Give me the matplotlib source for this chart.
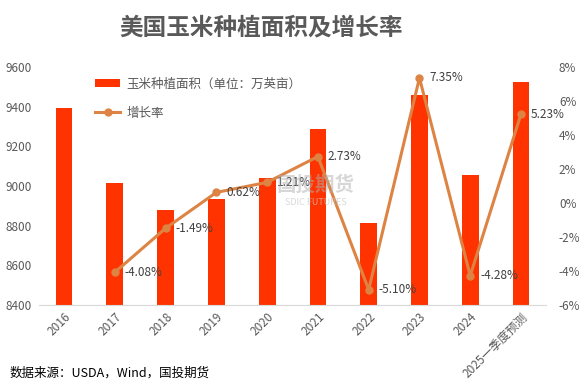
import matplotlib.pyplot as plt
import numpy as np

plt.rcParams['font.family'] = ['Noto Sans CJK SC', 'DejaVu Sans']

years = ['2016', '2017', '2018', '2019', '2020', '2021', '2022', '2023', '2024', '2025一季度预测']
area = [9395, 9017, 8879, 8934, 9042, 9287, 8815, 9459, 9055, 9524]
growth = [None, -4.08, -1.49, 0.62, 1.21, 2.73, -5.10, 7.35, -4.28, 5.23]
growth_labels = ['', '-4.08%', '-1.49%', '0.62%', '1.21%', '2.73%', '-5.10%', '7.35%', '-4.28%', '5.23%']

bar_color = '#FF3300'
line_color = '#DD8445'
text_color = '#595959'

fig = plt.figure(figsize=(5.79, 3.89), dpi=100)
ax = fig.add_axes([0.0667, 0.216, 0.877, 0.612])
x = np.arange(len(years))

bars = ax.bar(x, area, width=0.33, color=bar_color, zorder=2)
ax.set_ylim(8400, 9600)
ax.set_xlim(-0.5, len(years) - 0.5)
ax.set_yticks(np.arange(8400, 9601, 200))
ax.set_xticks(x)
ax.set_xticklabels(years, rotation=45, ha='right', rotation_mode='anchor')
for s in ['top', 'right', 'left']:
    ax.spines[s].set_visible(False)
ax.spines['bottom'].set_color('#D9D9D9')
ax.tick_params(axis='both', length=0, labelsize=8.5, colors=text_color)
ax.tick_params(axis='y', pad=5)
ax.tick_params(axis='x', pad=4)

ax2 = ax.twinx()
gx = x[1:]
gy = growth[1:]
line, = ax2.plot(gx, gy, color=line_color, lw=2.2, marker='o', ms=5, zorder=3)
ax2.set_ylim(-6, 8)
ax2.set_yticks(np.arange(-6, 8.1, 2))
ax2.set_yticklabels([f'{v}%' for v in range(-6, 9, 2)])
for s in ['top', 'right', 'left', 'bottom']:
    ax2.spines[s].set_visible(False)
ax2.tick_params(axis='y', length=0, labelsize=8.5, colors=text_color, pad=9)

for xi, yi, lab in zip(gx, gy, growth_labels[1:]):
    ax2.annotate(lab, (xi, yi), xytext=(7, 0), textcoords='offset points',
                 ha='left', va='center', fontsize=8.5, color='#404040', zorder=4)

# watermark
fig.text(0.545, 0.524, '国投期货', fontsize=14, color='#B0B0B0', alpha=0.5,
         ha='center', va='center', fontweight='bold')
fig.text(0.545, 0.48, 'SDIC FUTURES', fontsize=6.5, color='#C8C8C8', alpha=0.7,
         ha='center', va='center')

fig.legend(handles=[bars, line], labels=['玉米种植面积（单位：万英亩）', '增长率'],
           loc='upper left', bbox_to_anchor=(0.145, 0.83), frameon=False,
           fontsize=9, labelcolor=text_color, labelspacing=1.3,
           handlelength=2.0, handleheight=0.7, handletextpad=0.5)

fig.text(0.451, 0.93, '美国玉米种植面积及增长率', ha='center', va='center',
         fontsize=17, color=text_color, fontweight='bold')
fig.text(0.017, 0.04, '数据来源：USDA，Wind，国投期货', ha='left', va='center',
         fontsize=9, color='black')

fig.savefig('out.png', dpi=100, facecolor='white')
